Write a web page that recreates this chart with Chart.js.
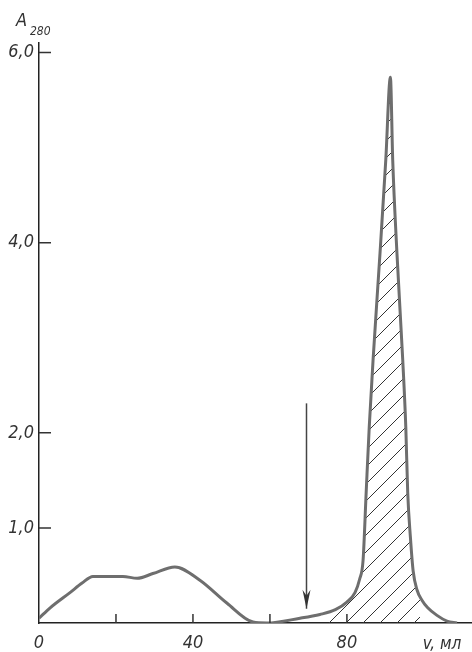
<!DOCTYPE html>
<html>
<head>
<meta charset="utf-8">
<script src="https://cdn.jsdelivr.net/npm/chart.js@4/dist/chart.umd.min.js"></script>
<style>
  html, body { margin: 0; padding: 0; background: #fff; }
  canvas { display: block; }
</style>
</head>
<body>
<canvas id="elutionChart" width="472" height="652"></canvas>
<script>
// elution volume, ml
var volume = [0, 2.9, 8.05, 11.2, 14.0, 21.8, 25.5, 29.6, 35.3, 41.8, 48.8, 55.6, 59.2, 67.8, 73, 77, 80, 82.1, 83.3, 84.2, 85.0, 85.8, 86.8, 88.6, 90.1, 91.3, 91.9, 93.0, 94.5, 95.3, 95.8, 96.5, 97.2, 98.2, 99.5, 101, 103.4, 106, 108.6];
// absorbance at 280 nm
var absorbance = [0.05, 0.16, 0.32, 0.42, 0.49, 0.49, 0.47, 0.52, 0.59, 0.45, 0.21, 0.01, 0, 0.05, 0.09, 0.14, 0.22, 0.32, 0.46, 0.66, 1.37, 2.06, 2.77, 3.89, 4.87, 5.74, 4.87, 3.89, 2.77, 2.06, 1.37, 0.9, 0.55, 0.35, 0.24, 0.16, 0.08, 0.02, 0];

var yTicks = [1, 2, 4, 6];
var xTicks = [0, 20, 40, 60, 80];
var xLabels = [0, 40, 80];

var hatchRange = [73, 99];       // hatched fraction, ml
var arrowVolume = 69.5;          // arrow marker, ml
var arrowSpan = [2.31, 0.15];    // from / to, A280

var ink = '#333';
var numFont = { family: "'Liberation Sans Narrow', 'DejaVu Sans Condensed', 'Liberation Sans', sans-serif", size: 18, style: 'italic' };

function hatchPattern(ctx) {
  var s = 17;
  var c = document.createElement('canvas');
  c.width = s; c.height = s;
  var p = c.getContext('2d');
  p.strokeStyle = '#333';
  p.lineWidth = 1;
  p.beginPath();
  p.moveTo(0, s); p.lineTo(s, 0);
  p.moveTo(-2, 2); p.lineTo(2, -2);
  p.moveTo(s - 2, s + 2); p.lineTo(s + 2, s - 2);
  p.stroke();
  return ctx.createPattern(c, 'repeat');
}

var marks = {
  id: 'marks',
  beforeDatasetsDraw: function (chart) {
    var ctx = chart.ctx, area = chart.chartArea;
    var x = chart.scales.x, y = chart.scales.y;
    var line = chart.getDatasetMeta(0).dataset;
    line.updateControlPoints(area, 'x');
    var left = x.getPixelForValue(hatchRange[0]);
    var right = x.getPixelForValue(hatchRange[1]);
    var base = y.getPixelForValue(0);
    ctx.save();
    ctx.beginPath();
    ctx.rect(left, area.top, right - left, base - area.top);
    ctx.clip();
    ctx.beginPath();
    line.path(ctx);
    ctx.lineTo(x.getPixelForValue(volume[volume.length - 1]), base);
    ctx.lineTo(x.getPixelForValue(volume[0]), base);
    ctx.closePath();
    ctx.fillStyle = hatchPattern(ctx);
    ctx.fill();
    ctx.restore();
  },
  afterDraw: function (chart) {
    var ctx = chart.ctx;
    var x = chart.scales.x, y = chart.scales.y;
    ctx.save();
    ctx.strokeStyle = ink;
    ctx.lineWidth = 1.5;
    // inward ticks
    ctx.beginPath();
    yTicks.forEach(function (v) {
      var py = y.getPixelForValue(v);
      ctx.moveTo(x.left, py); ctx.lineTo(x.left + 12, py);
    });
    xTicks.forEach(function (v) {
      if (v === 0) return;
      var px = x.getPixelForValue(v);
      ctx.moveTo(px, y.bottom); ctx.lineTo(px, y.bottom - 9);
    });
    ctx.stroke();

    // arrow
    var ax = x.getPixelForValue(arrowVolume);
    var a0 = y.getPixelForValue(arrowSpan[0]);
    var a1 = y.getPixelForValue(arrowSpan[1]);
    ctx.strokeStyle = '#444';
    ctx.beginPath();
    ctx.moveTo(ax, a0); ctx.lineTo(ax, a1);
    ctx.stroke();
    ctx.fillStyle = '#333';
    ctx.beginPath();
    ctx.moveTo(ax, a1);
    ctx.lineTo(ax - 4, a1 - 19);
    ctx.lineTo(ax, a1 - 13);
    ctx.lineTo(ax + 4, a1 - 19);
    ctx.closePath();
    ctx.fill();

    // axis titles
    ctx.fillStyle = ink;
    ctx.textBaseline = 'alphabetic';
    ctx.textAlign = 'left';
    ctx.font = "italic 18px " + numFont.family;
    ctx.fillText('A', 16, 26);
    ctx.font = "italic 12px " + numFont.family;
    ctx.fillText('280', 30, 35);
    ctx.textAlign = 'center';
    ctx.font = "italic 17px " + numFont.family;
    ctx.fillText('v, мл', x.right - 30, 649);
    ctx.restore();
  }
};

var ctx = document.getElementById('elutionChart');
var elutionChart = new Chart(ctx, {
  type: 'line',
  data: {
    datasets: [{
      data: volume.map(function (v, i) { return { x: v, y: absorbance[i] }; }),
      borderColor: '#6e6e6e',
      borderWidth: 3,
      pointRadius: 0,
      fill: false,
      cubicInterpolationMode: 'monotone'
    }]
  },
  options: {
    responsive: false,
    animation: false,
    devicePixelRatio: 1,
    layout: { padding: { top: 43, left: 0, right: 0, bottom: 0 } },
    plugins: {
      legend: { display: false },
      tooltip: { enabled: false }
    },
    scales: {
      x: {
        type: 'linear',
        min: 0,
        max: 112.5,
        afterBuildTicks: function (scale) {
          scale.ticks = xTicks.map(function (v) { return { value: v }; });
        },
        afterFit: function (scale) { scale.height = 29; },
        grid: { display: true, drawOnChartArea: false, drawTicks: false },
        border: { display: true, color: '#222', width: 1.5 },
        ticks: {
          padding: 10,
          maxRotation: 0,
          autoSkip: false,
          color: ink,
          font: numFont,
          callback: function (v) { return xLabels.indexOf(v) >= 0 ? String(v) : ''; }
        }
      },
      y: {
        type: 'linear',
        min: 0,
        max: 6.1,
        afterBuildTicks: function (scale) {
          scale.ticks = yTicks.map(function (v) { return { value: v }; });
        },
        afterFit: function (scale) { scale.width = 39; },
        grid: { display: true, drawOnChartArea: false, drawTicks: false },
        border: { display: true, color: '#222', width: 1.5 },
        ticks: {
          padding: 5,
          autoSkip: false,
          color: ink,
          font: numFont,
          callback: function (v) { return v.toFixed(1).replace('.', ','); }
        }
      }
    }
  },
  plugins: [marks]
});
</script>
</body>
</html>
